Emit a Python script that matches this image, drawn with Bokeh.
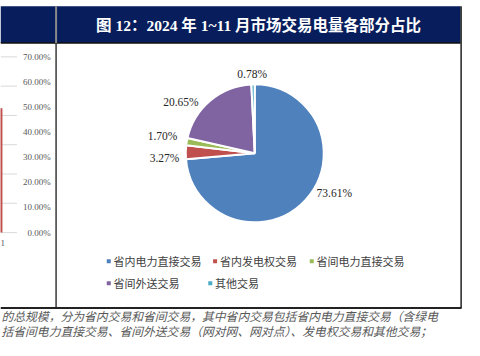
import math
from bokeh.plotting import figure
from bokeh.models import Range1d, ColumnDataSource
from bokeh.core.properties import value
from bokeh.embed import file_html
from bokeh.resources import INLINE

# ---------------- data ----------------
title_text = "图 12：2024 年 1~11 月市场交易电量各部分占比"
categories = ["省内电力直接交易", "省内发电权交易", "省间电力直接交易", "省间外送交易", "其他交易"]
shares = [73.61, 3.27, 1.70, 20.65, 0.78]
colors = ["#4F81BD", "#C0504D", "#9BBB59", "#8064A2", "#4BACC6"]

# neighbouring (cut-off) chart on the left
left_axis_ticks = [0, 10, 20, 30, 40, 50, 60, 70]
left_grid_levels = [0, 1, 2, 3, 4, 5, 6]
left_bar_value = [49.5]
left_category = ["1"]

body_lines = [
    "的总规模，分为省内交易和省间交易，其中省内交易包括省内电力直接交易（含绿电",
    "括省间电力直接交易、省间外送交易（网对网、网对点）、发电权交易和其他交易；",
]

# ---------------- figure ----------------
W, H = 480, 356
p = figure(width=464, height=340, x_range=Range1d(0, W), y_range=Range1d(0, H),
           output_backend="svg", toolbar_location=None, min_border=0,
           background_fill_color="white", border_fill_color="white")
p.axis.visible = False
p.grid.visible = False
p.outline_line_color = None


def ry(y):
    return H - y


CJK = "Noto Sans CJK SC"
SERIF = "Liberation Serif"

# header bar
p.quad(left=0, right=476, top=ry(6), bottom=ry(44.5), fill_color="#071d5c", line_color=None)
p.segment(x0=[0], x1=[476], y0=[ry(44.5)], y1=[ry(44.5)], line_color="#111111", line_width=1.5)
p.text(x=[267], y=[ry(26)], text=[title_text], text_color="white",
       text_font=value(SERIF + ", " + CJK), text_font_style="bold",
       text_font_size="15.5px", text_align="center", text_baseline="middle")

# panel borders
p.segment(x0=[57.5], x1=[57.5], y0=[ry(6)], y1=[ry(44.5)], line_color="#8a8a8a", line_width=2)
p.segment(x0=[57.5], x1=[57.5], y0=[ry(44.5)], y1=[ry(322)], line_color="#3a3a3a", line_width=1.5)
p.segment(x0=[476.5], x1=[476.5], y0=[ry(6)], y1=[ry(322)], line_color="#222222", line_width=1.5)
p.segment(x0=[0], x1=[477], y0=[ry(322)], y1=[ry(322)], line_color="#222222", line_width=2)

# left cut-off chart
top_px, bot_px = 59, 243
def left_map(v, vmax):
    return ry(bot_px - (bot_px - top_px) * v / vmax)

gmax = max(left_grid_levels)
p.segment(x0=[0] * len(left_grid_levels), x1=[17] * len(left_grid_levels),
          y0=[left_map(g, gmax) for g in left_grid_levels],
          y1=[left_map(g, gmax) for g in left_grid_levels],
          line_color="#d9d9d9", line_width=1)
tmax = max(left_axis_ticks)
p.text(x=[52] * len(left_axis_ticks), y=[left_map(t, tmax) for t in left_axis_ticks],
       text=[f"{t:.2f}%" for t in left_axis_ticks], text_color="#595959",
       text_font=value(SERIF), text_font_size="9px", text_align="right", text_baseline="middle")
p.quad(left=[-4], right=[2], bottom=[left_map(0, tmax)], top=[left_map(left_bar_value[0], tmax)],
       fill_color="#C0504D", line_color=None)
p.text(x=[0], y=[ry(254)], text=left_category, text_color="#595959",
       text_font=value(SERIF), text_font_size="9px", text_align="left", text_baseline="middle")

# pie
total = sum(shares)
starts, ends, cum = [], [], 0.0
for s in shares:
    starts.append(math.pi / 2 - 2 * math.pi * cum / total)
    cum += s
    ends.append(math.pi / 2 - 2 * math.pi * cum / total)
src = ColumnDataSource(dict(start=starts, end=ends, color=colors))
p.wedge(x=263, y=ry(160), radius=69, radius_units="screen", start_angle="start", end_angle="end",
        direction="clock", fill_color="color", line_color="white", line_width=2, source=src)

# pie labels
lab_x = [327, 185, 183, 205, 245]
lab_y = [202, 165, 142, 106, 77]
lab_align = ["left", "right", "right", "right", "left"]
lsrc = ColumnDataSource(dict(x=lab_x, y=[ry(v) for v in lab_y],
                             t=[f"{s:.2f}%" for s in shares], a=lab_align))
p.text(x="x", y="y", text="t", text_align="a", source=lsrc, text_color="#262626",
       text_font=value(SERIF), text_font_size="11.5px", text_baseline="middle")

# legend
leg_x = [112, 222, 322, 112, 217]
leg_y = [273, 273, 273, 296, 296]
p.scatter(x=leg_x, y=[ry(v) for v in leg_y], marker="square", size=4, color=colors, line_color=None)
p.text(x=[v + 5 for v in leg_x], y=[ry(v) for v in leg_y], text=categories, text_color="#404040",
       text_font=value(CJK), text_font_size="11px", text_align="left", text_baseline="middle")

# body text
p.text(x=[1, 1], y=[ry(330), ry(346)], text=body_lines, text_color="#595959",
       text_font=value(CJK), text_font_style="italic", text_font_size="11.8px",
       text_align="left", text_baseline="middle")

open("out.html", "w").write(file_html(p, INLINE))
